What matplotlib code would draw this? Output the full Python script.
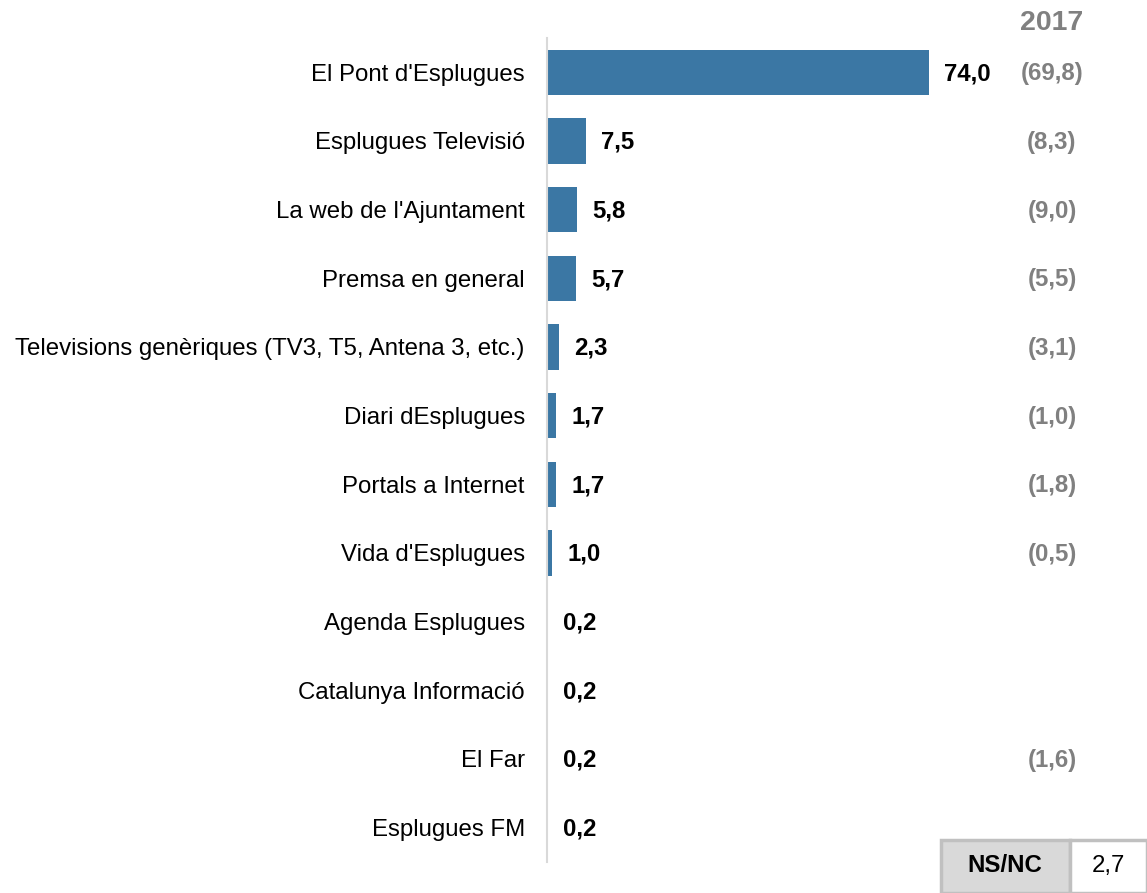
import matplotlib
matplotlib.use("Agg")
import matplotlib.pyplot as plt
from matplotlib.patches import Rectangle
from matplotlib.transforms import blended_transform_factory

plt.rcParams['font.family'] = ['Liberation Sans', 'DejaVu Sans']

# data
categories = ["El Pont d'Esplugues", "Esplugues Televisió", "La web de l'Ajuntament",
              "Premsa en general", "Televisions genèriques (TV3, T5, Antena 3, etc.)",
              "Diari dEsplugues", "Portals a Internet", "Vida d'Esplugues",
              "Agenda Esplugues", "Catalunya Informació", "El Far", "Esplugues FM"]
values = [74.0, 7.5, 5.8, 5.7, 2.3, 1.7, 1.7, 1.0, 0.2, 0.2, 0.2, 0.2]
prev_2017 = [69.8, 8.3, 9.0, 5.5, 3.1, 1.0, 1.8, 0.5, None, None, 1.6, None]
nsnc = 2.7

W, H = 1147, 893
FS = 17.3
fig = plt.figure(figsize=(W / 100, H / 100), dpi=100)

# axes placed in pixel terms
ax = fig.add_axes([547 / W, (H - 862) / H, 600 / W, 824 / H])
ax.barh(range(len(values)), values, height=0.66, color='#3B77A4')
ax.set_xlim(0, 600 / 5.162)
ax.set_ylim(len(values) - 0.5, -0.5)

for s in ['top', 'right', 'bottom']:
    ax.spines[s].set_visible(False)
ax.spines['left'].set_color('#D9D9D9')
ax.spines['left'].set_linewidth(1.5)
ax.set_xticks([])
ax.set_yticks(range(len(categories)))
ax.set_yticklabels(categories, fontsize=FS, color='black')
ax.tick_params(axis='y', length=0, pad=16)

def fmt(v):
    return f"{v:.1f}".replace('.', ',')

for i, v in enumerate(values):
    ax.annotate(fmt(v), (v, i), xytext=(11, -1), textcoords='offset points',
                va='center', ha='left', fontsize=FS, fontweight='bold')

tr = blended_transform_factory(fig.transFigure, ax.transData)
for i, p in enumerate(prev_2017):
    if p is not None:
        ax.text(1052 / W, i + 0.02, "(" + fmt(p) + ")", transform=tr, ha='center',
                va='center', fontsize=FS, fontweight='bold', color='#808080')

fig.text(1052 / W, 1 - 23 / H, "2017", ha='center', va='center',
         fontsize=20.5, fontweight='bold', color='#808080')

# NS/NC box
fig.patches.append(Rectangle((941 / W, 0), (1070 - 941) / W, (H - 840) / H,
                             transform=fig.transFigure, facecolor='#D9D9D9',
                             edgecolor='#C0C0C0', linewidth=2.5))
fig.patches.append(Rectangle((1070 / W, 0), (W - 1070) / W, (H - 840) / H,
                             transform=fig.transFigure, facecolor='white',
                             edgecolor='#C0C0C0', linewidth=2.5))
fig.text(1005 / W, 1 - 866 / H, "NS/NC", ha='center', va='center',
         fontsize=FS, fontweight='bold')
fig.text(1108 / W, 1 - 866 / H, fmt(nsnc), ha='center', va='center', fontsize=FS)

fig.savefig("out.png", dpi=100)
